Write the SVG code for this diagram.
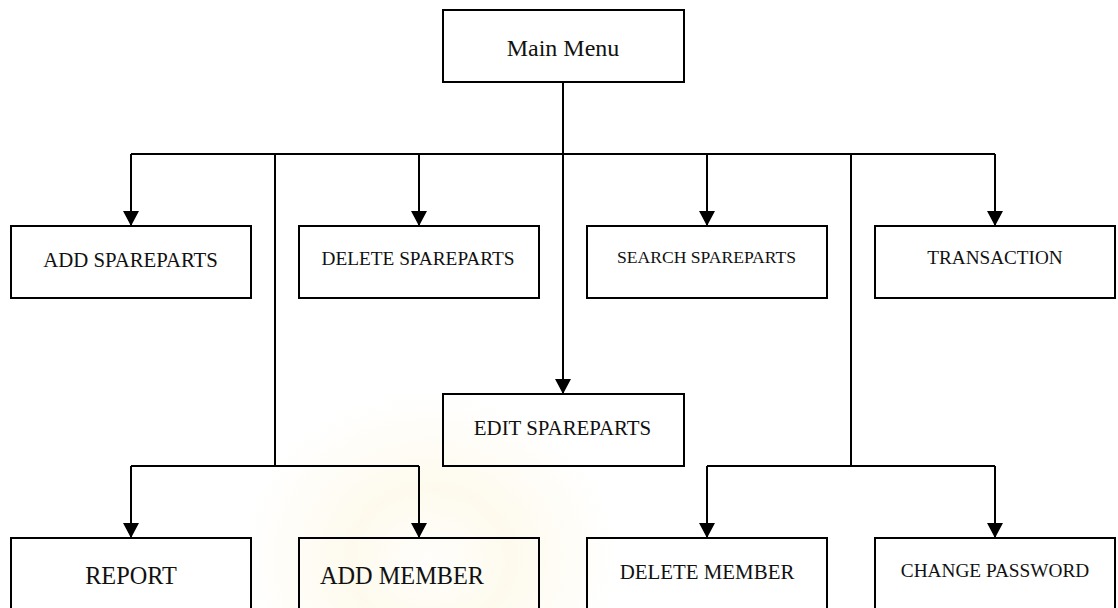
<svg xmlns="http://www.w3.org/2000/svg" width="1118" height="608" viewBox="0 0 1118 608">
  <defs>
    <marker id="arrow" viewBox="0 0 15 16" markerWidth="15" markerHeight="16" refX="15" refY="8" orient="auto" markerUnits="userSpaceOnUse">
      <path d="M0,0 L15,8 L0,16 Z" fill="#000"/>
    </marker>
    <radialGradient id="seal" cx="0.5" cy="0.5" r="0.5">
      <stop offset="0" stop-color="#fdf8e6" stop-opacity="0.2"/>
      <stop offset="0.4" stop-color="#fbf1cc" stop-opacity="0.35"/>
      <stop offset="0.75" stop-color="#fcf5dc" stop-opacity="0.2"/>
      <stop offset="1" stop-color="#ffffff" stop-opacity="0"/>
    </radialGradient>
    <style>
      .box { fill: none; stroke: #000; stroke-width: 2; }
      .wire { fill: none; stroke: #000; stroke-width: 2; }
      .arrow { fill: none; stroke: #000; stroke-width: 2; marker-end: url(#arrow); }
      .label { font-family: "Liberation Serif", "Times New Roman", serif; fill: #111; text-anchor: middle; }
    </style>
  </defs>

  <rect width="1118" height="608" fill="#fff"/>
  <!-- faint background seal -->
  <ellipse cx="430" cy="560" rx="200" ry="180" fill="url(#seal)"/>

  <!-- connectors -->
  <g id="connectors">
    <!-- trunk from Main Menu to Edit -->
    <path class="arrow" d="M563,82 V394"/>
    <!-- top bus -->
    <path class="wire" d="M131,154 H995"/>
    <path class="arrow" d="M131,154 V226"/>
    <path class="arrow" d="M419,154 V226"/>
    <path class="arrow" d="M707,154 V226"/>
    <path class="arrow" d="M995,154 V226"/>
    <!-- lower left branch -->
    <path class="wire" d="M275,154 V466 M131,466 H419"/>
    <path class="arrow" d="M131,466 V538"/>
    <path class="arrow" d="M419,466 V538"/>
    <!-- lower right branch -->
    <path class="wire" d="M851,154 V466 M707,466 H995"/>
    <path class="arrow" d="M707,466 V538"/>
    <path class="arrow" d="M995,466 V538"/>
  </g>

  <g id="main-menu">
    <rect class="box" x="443" y="10" width="241" height="72"/>
    <text class="label" x="563" y="56" font-size="24">Main Menu</text>
  </g>

  <g id="add-spareparts">
    <rect class="box" x="11" y="226" width="240" height="72"/>
    <text class="label" x="130.5" y="267" font-size="20.8">ADD SPAREPARTS</text>
  </g>
  <g id="delete-spareparts">
    <rect class="box" x="299" y="226" width="240" height="72"/>
    <text class="label" x="418" y="265" font-size="19.3">DELETE SPAREPARTS</text>
  </g>
  <g id="search-spareparts">
    <rect class="box" x="587" y="226" width="240" height="72"/>
    <text class="label" x="706.5" y="263" font-size="17.6">SEARCH SPAREPARTS</text>
  </g>
  <g id="transaction">
    <rect class="box" x="875" y="226" width="240" height="72"/>
    <text class="label" x="995" y="264" font-size="19.2">TRANSACTION</text>
  </g>

  <g id="edit-spareparts">
    <rect class="box" x="443" y="394" width="241" height="72"/>
    <text class="label" x="562.5" y="434.5" font-size="20.9">EDIT SPAREPARTS</text>
  </g>

  <g id="report">
    <rect class="box" x="11" y="538" width="240" height="80"/>
    <text class="label" x="131" y="584" font-size="24.3">REPORT</text>
  </g>
  <g id="add-member">
    <rect class="box" x="299" y="538" width="240" height="80"/>
    <text class="label" x="402" y="583.5" font-size="24.3">ADD MEMBER</text>
  </g>
  <g id="delete-member">
    <rect class="box" x="587" y="538" width="240" height="80"/>
    <text class="label" x="707" y="579" font-size="20.9">DELETE MEMBER</text>
  </g>
  <g id="change-password">
    <rect class="box" x="875" y="538" width="240" height="80"/>
    <text class="label" x="995" y="577" font-size="19.3">CHANGE PASSWORD</text>
  </g>
</svg>
